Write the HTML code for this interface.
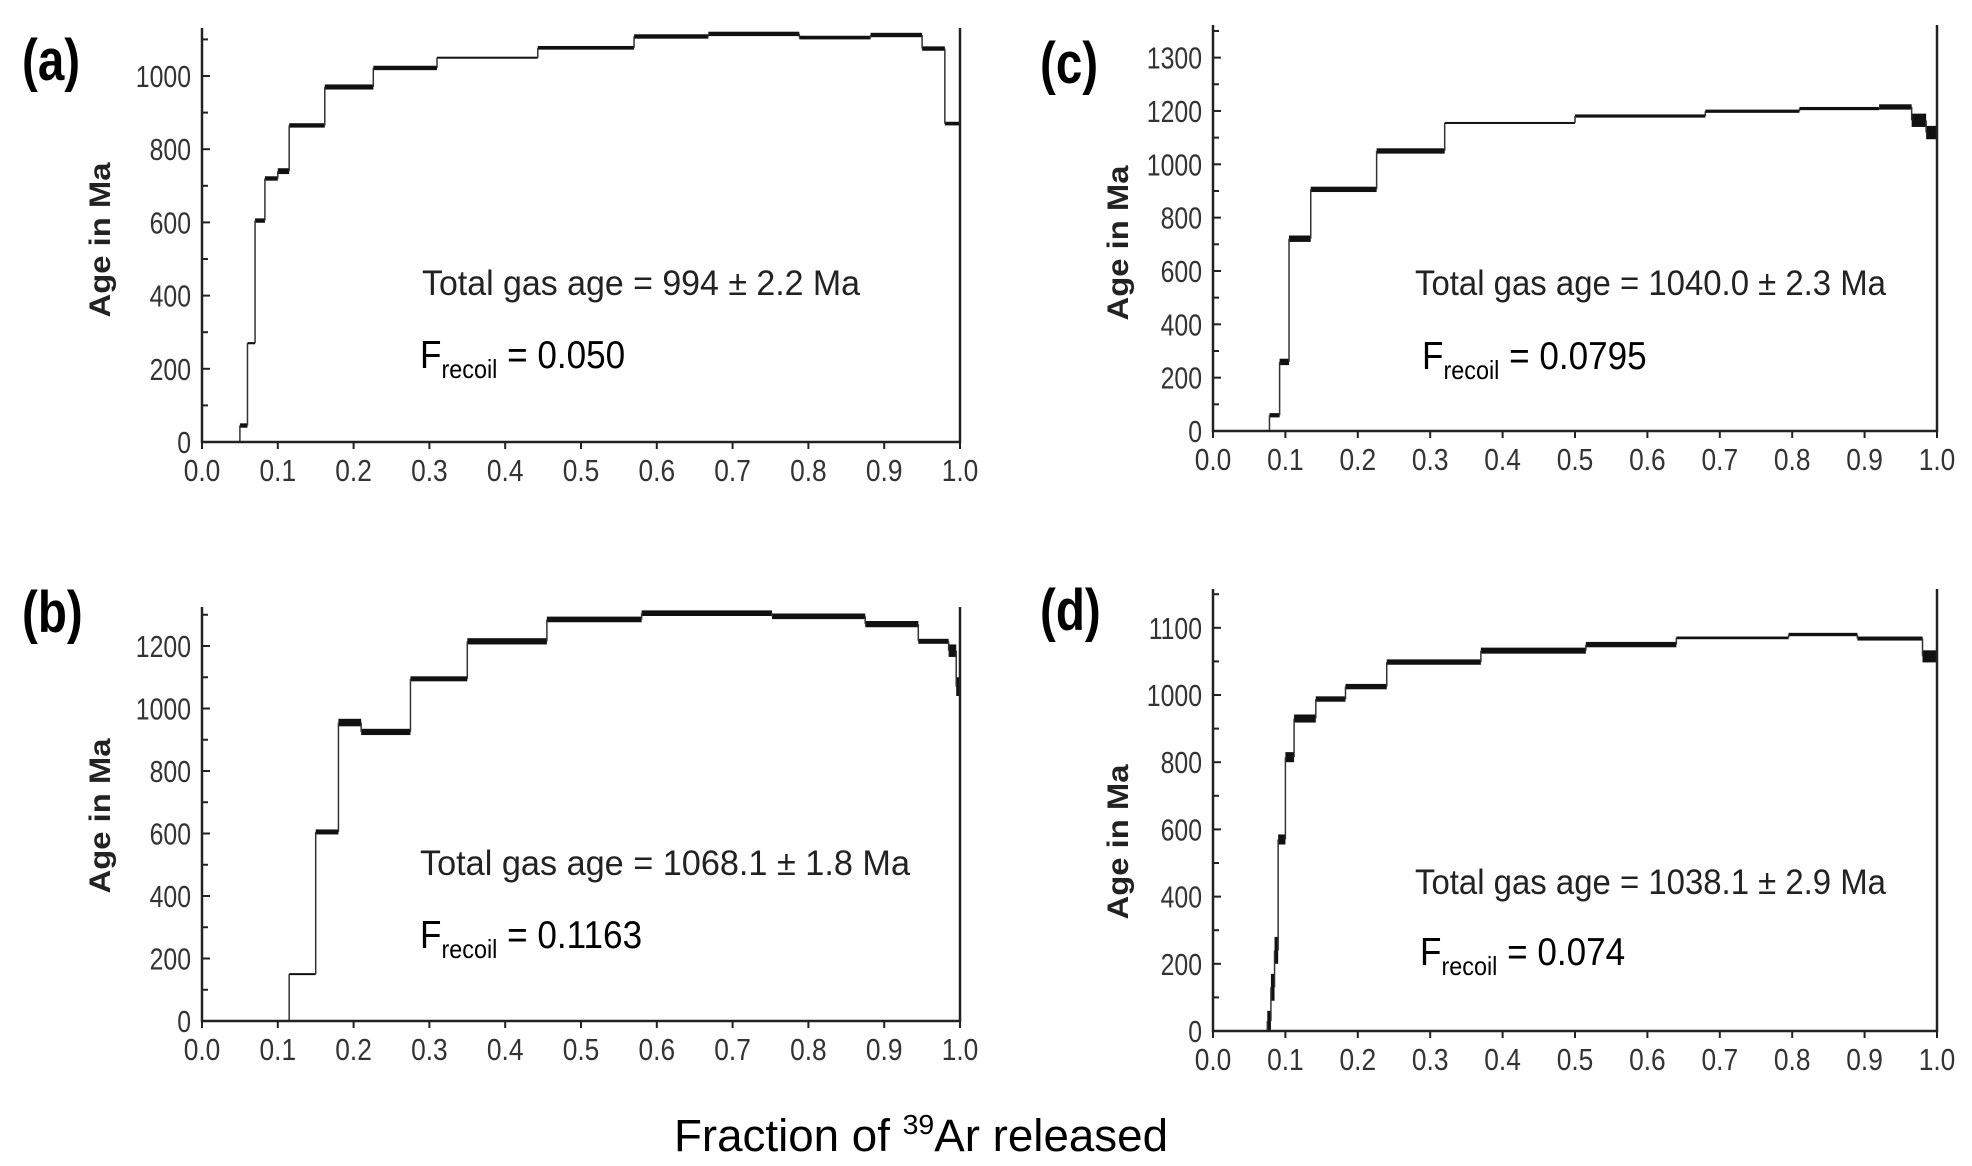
<!DOCTYPE html>
<html><head><meta charset="utf-8"><style>
body{margin:0;background:#fff}
svg{display:block}
text{font-family:"Liberation Sans",Arial,sans-serif}
</style></head><body>
<svg id="fig" width="1972" height="1166" viewBox="0 0 1972 1166" xmlns="http://www.w3.org/2000/svg">
<text x="674" y="1151" font-size="45" fill="#000" textLength="494" lengthAdjust="spacingAndGlyphs">Fraction of <tspan dy="-17" font-size="28">39</tspan><tspan dy="17">Ar released</tspan></text>
</svg>
<script>
// Panel (a)
const aEdges=[0,0.05,0.06,0.07,0.083,0.1,0.115,0.162,0.226,0.31,0.443,0.57,0.668,0.788,0.882,0.95,0.98,1.0];
const aAges=[0,45,270,605,720,740,865,970,1022,1050,1077,1108,1115,1105,1112,1075,870];
const aErrs=[2,6,3,6,6,8,6,7,6,2,5,6,6,5,6,6,5];
const aTicks=[0,200,400,600,800,1000];
const aTickLabels=["0","200","400","600","800","1000"];
// Panel (b)
const bEdges=[0.115,0.15,0.18,0.21,0.275,0.35,0.455,0.58,0.752,0.875,0.945,0.985,0.995,1.0];
const bAges=[150,605,955,925,1095,1215,1285,1305,1295,1270,1215,1185,1070];
const bErrs=[2,8,12,10,8,10,9,9,9,10,8,20,30];
const bTicks=[0,200,400,600,800,1000,1200];
const bTickLabels=["0","200","400","600","800","1000","1200"];
// Panel (c)
const cEdges=[0,0.078,0.092,0.105,0.135,0.226,0.32,0.5,0.68,0.81,0.92,0.965,0.985,1.0];
const cAges=[0,59,259,721,906,1050,1155,1181,1199,1209,1215,1165,1119];
const cErrs=[3,8,12,12,10,10,3,6,6,6,10,25,25];
const cTicks=[0,200,400,600,800,1000,1200,1400];
const cTickLabels=["0","200","400","600","800","1000","1200","1300"];
// Panel (d)
const dEdges=[0.075,0.08,0.085,0.09,0.1,0.112,0.142,0.183,0.24,0.37,0.515,0.64,0.795,0.89,0.98,1.0];
const dAges=[30,130,240,570,815,930,988,1025,1098,1132,1150,1170,1180,1168,1115];
const dErrs=[30,40,40,15,15,12,8,8,8,9,8,4,5,6,18];
const dTicks=[0,200,400,600,800,1000,1200];
const dTickLabels=["0","200","400","600","800","1000","1100"];
const xTicks=[0,0.1,0.2,0.3,0.4,0.5,0.6,0.7,0.8,0.9,1.0];
const xTickLabels=["0.0","0.1","0.2","0.3","0.4","0.5","0.6","0.7","0.8","0.9","1.0"];

const NS="http://www.w3.org/2000/svg";
const svg=document.getElementById('fig');
function mk(tag,attrs,parent){const e=document.createElementNS(NS,tag);for(const k in attrs)e.setAttribute(k,attrs[k]);(parent||svg).appendChild(e);return e;}
function squeeze(el,f){const w=el.getComputedTextLength();el.setAttribute('textLength',(w*f).toFixed(1));el.setAttribute('lengthAdjust','spacingAndGlyphs');}

function panel(id,box,edges,ages,errs,ticks,tickLabels,texts){
  const g=mk('g',{});
  
  
  const X=v=>box.x0+(box.x1-box.x0)*v;
  const Y=v=>box.y0-v*box.ppm;
  for(let i=0;i<ages.length;i++){
    const h=Math.max(2,2*errs[i]*box.ppm);
    const r=mk('rect',{x:X(edges[i]),y:Y(ages[i])-h/2,width:X(edges[i+1])-X(edges[i]),height:h,fill:'#111'},g);
    
    
    if(i>0){
      const l=mk('line',{x1:X(edges[i]),x2:X(edges[i]),y1:Y(ages[i-1]),y2:Y(ages[i]),stroke:'#333','stroke-width':1.5},g);
      
      
    }
  }
  if(box.startVert){
    const l=mk('line',{x1:X(edges[0]),x2:X(edges[0]),y1:box.y0,y2:Y(ages[0]),stroke:'#333','stroke-width':1.5},g);
    
    
  }
  const ax=mk('path',{d:`M${box.x0},${box.top} V${box.y0} H${box.x1} V${box.top}`,fill:'none',stroke:'#222','stroke-width':2.5},g);
  
  
  const yMax=(box.y0-box.top)/box.ppm;
  for(let i=0;i<ticks.length;i++){
    const t=mk('line',{x1:box.x0,x2:box.x0+8,y1:Y(ticks[i]),y2:Y(ticks[i]),stroke:'#222','stroke-width':2},g);
    
    
    const m=ticks[i]+(ticks[1]-ticks[0])/2;
    if(m<yMax){
      const mt=mk('line',{x1:box.x0,x2:box.x0+6,y1:Y(m),y2:Y(m),stroke:'#222','stroke-width':2},g);
      
      
    }
    const tl=mk('text',{x:box.x0-11,y:Y(ticks[i])+11,'font-size':31,fill:'#333','text-anchor':'end'},g);
    tl.textContent=tickLabels[i];
    
    
    squeeze(tl,0.8);
  }
  for(let i=0;i<xTicks.length;i++){
    const t=mk('line',{x1:X(xTicks[i]),x2:X(xTicks[i]),y1:box.y0,y2:box.y0+7,stroke:'#222','stroke-width':2},g);
    
    
    const tl=mk('text',{x:X(xTicks[i]),y:box.y0+39,'font-size':31,fill:'#333','text-anchor':'middle'},g);
    tl.textContent=xTickLabels[i];
    
    
    squeeze(tl,0.85);
  }
  const yt=mk('text',{x:0,y:0,'font-size':30,'font-weight':'bold',fill:'#222','text-anchor':'middle',transform:`translate(${box.x0+box.ytx},${box.yty}) rotate(-90)`,textLength:155,lengthAdjust:'spacingAndGlyphs'},g);
  yt.textContent='Age in Ma';
  
  
  const pl=mk('text',{x:box.lx,y:box.ly,'font-size':58,'font-weight':'bold',fill:'#000'},g);
  pl.textContent='('+id+')';
  
  
  squeeze(pl,0.82);
  const tg=mk('text',{x:texts.tx,y:texts.ty,'font-size':35,fill:'#222',textLength:texts.tw,lengthAdjust:'spacingAndGlyphs'},g);
  tg.textContent='Total gas age = '+texts.age;
  
  
  const fr=mk('text',{x:texts.fx,y:texts.fy,'font-size':39,fill:'#000'},g);
  fr.innerHTML='F<tspan dy="10" font-size="26">recoil</tspan><tspan dy="-10"> = '+texts.f+'</tspan>';
  
  
  squeeze(fr,0.9);
}

panel('a',{x0:202,x1:960,y0:442,ppm:0.366,top:28,ytx:-92,yty:240,lx:22,ly:80},aEdges,aAges,aErrs,aTicks,aTickLabels,
  {tx:422,ty:295,tw:438,age:'994 ± 2.2 Ma',fx:420,fy:368,f:'0.050'});
panel('b',{x0:202,x1:960,y0:1021,ppm:0.3125,top:607,ytx:-92,yty:816,lx:22,ly:632,startVert:true},bEdges,bAges,bErrs,bTicks,bTickLabels,
  {tx:420,ty:875,tw:490,age:'1068.1 ± 1.8 Ma',fx:420,fy:948,f:'0.1163'});
panel('c',{x0:1213,x1:1937,y0:431,ppm:0.2667,top:25,ytx:-85,yty:243,lx:1040,ly:83},cEdges,cAges,cErrs,cTicks,cTickLabels,
  {tx:1415,ty:295,tw:471,age:'1040.0 ± 2.3 Ma',fx:1422,fy:369,f:'0.0795'});
panel('d',{x0:1213,x1:1937,y0:1031,ppm:0.336,top:589,ytx:-85,yty:842,lx:1040,ly:630,startVert:true},dEdges,dAges,dErrs,dTicks,dTickLabels,
  {tx:1415,ty:894,tw:471,age:'1038.1 ± 2.9 Ma',fx:1420,fy:965,f:'0.074'});
</script>
</body></html>
